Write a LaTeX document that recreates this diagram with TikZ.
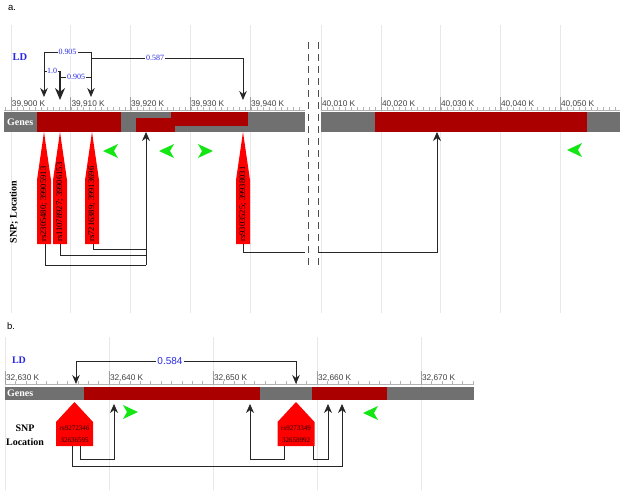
\documentclass[tikz,border=0pt]{standalone}
\usepackage{fontspec}
\setmainfont{Liberation Serif}
\newfontfamily\sansf{Liberation Sans}
\usetikzlibrary{arrows.meta}
\definecolor{genegrey}{RGB}{112,112,112}
\definecolor{genered}{RGB}{170,0,0}
\definecolor{snpred}{RGB}{255,0,0}
\definecolor{chev}{RGB}{20,230,20}
\definecolor{ldblue}{RGB}{40,40,230}
\definecolor{gridc}{RGB}{232,232,232}
\newcommand\SpikeA[3]{%
  \fill[snpred] (#2,132) -- ({#2+7},180) -- ({#2+7},244) -- ({#2-7},244) -- ({#2-7},180) -- cycle;
  \node[snplab,rotate=90,anchor=west] (#1) at (#2,242) {#3};}
\newcommand\HouseB[4]{%
  \fill[snpred] (#2,402) -- ({#2+18.5},422) -- ({#2+18.5},446) -- ({#2-18.5},446) -- ({#2-18.5},422) -- cycle;
  \node[snpbl] (#1t) at (#2,428) {#3};
  \node[snpbl] (#1p) at (#2,440) {#4};}
\begin{document}
\begin{tikzpicture}[x=1pt,y=-1pt,
  gridline/.style={draw=gridc,line width=0.7pt},
  majtick/.style={draw=gray!75,line width=0.6pt},
  mintick/.style={draw=gray!60,line width=0.4pt},
  ruler/.style={draw=gray!60,line width=0.8pt},
  ticklab/.style={font=\sansf\fontsize{8.3}{9}\selectfont,text=black!75,anchor=base west,inner sep=0pt},
  ldval/.style={font=\fontsize{8}{9}\selectfont,text=ldblue,fill=white,inner sep=1pt},
  ldvalb/.style={font=\sansf\fontsize{10}{11}\selectfont,text=ldblue,fill=white,inner sep=1pt},
  ldhead/.style={font=\bfseries\fontsize{10.5}{12}\selectfont,text=ldblue,inner sep=0pt},
  ldline/.style={draw=black!85,line width=0.7pt},
  ldtip/.style={-{Stealth[length=9pt,width=7.5pt]}},
  ldtips/.style={{Stealth[length=9pt,width=7.5pt]}-{Stealth[length=9pt,width=7.5pt]}},
  genelab/.style={font=\bfseries\fontsize{10}{12}\selectfont,text=white,anchor=west,inner sep=0pt},
  conn/.style={draw=black!85,line width=0.7pt},
  conntip/.style={-{Stealth[length=9pt,width=8pt]}},
  snplab/.style={font=\fontsize{8.6}{9}\selectfont,text=black,inner sep=0pt},
  snpbl/.style={font=\fontsize{7}{8}\selectfont,text=black!85!red,inner sep=0pt},
  sidelab/.style={font=\bfseries\fontsize{10}{12}\selectfont,inner sep=0pt},
  dashsep/.style={draw=black!70,line width=0.8pt,dash pattern=on 7pt off 5pt},
  panel/.style={font=\sansf\fontsize{9.5}{10}\selectfont,inner sep=0pt,anchor=west},
  chevl/.pic={\fill[chev] (-8,0) -- (7,-7) -- (3,0) -- (7,7) -- cycle;},
  chevr/.pic={\fill[chev] (8,0) -- (-7,-7) -- (-3,0) -- (-7,7) -- cycle;}
]
\useasboundingbox (0,0) rectangle (625,499);

% ---------------- panel a ----------------
\node[panel] (pa) at (8,8) {a.};
\foreach \gx in {11,70.5,130,190,250,321,381,440,500,560}
  \draw[gridline] (\gx,25) -- (\gx,313);

% rulers
\draw[ruler] (4,110) -- (305,110);
\draw[ruler] (321,110) -- (620,110);
\foreach \i in {0,...,49} \draw[mintick] ({5+6*\i},107) -- ++(0,3);
\foreach \i in {0,...,49} \draw[mintick] ({321+6*\i},107) -- ++(0,3);
\foreach \gx/\lab [count=\k] in {11/{39,900 K},70.5/{39,910 K},130/{39,920 K},190/{39,930 K},250/{39,940 K},321/{40,010 K},381/{40,020 K},440/{40,030 K},500/{40,040 K},560/{40,050 K}}{
  \draw[majtick] (\gx,97) -- (\gx,110);
  \node[ticklab] (ta\k) at (\gx+0.8,106) {\lab};
}

% gene bars
\fill[genegrey] (4,112) rectangle (305,132);
\fill[genered] (37,112) rectangle (121,132);
\fill[genered] (136,118) rectangle (175,132);
\fill[genered] (171,112) rectangle (248,126);
\fill[genegrey] (321,112) rectangle (620,132);
\fill[genered] (375,112) rectangle (587,132);
\node[genelab] (ga) at (7,122) {Genes};

% separators
\draw[dashsep] (308,42) -- (308,268);
\draw[dashsep] (318,42) -- (318,268);

% LD
\node[ldhead] (lda) at (20,57) {LD};
\coordinate (la1) at (44,97);
\coordinate (la2) at (60,100);
\coordinate (la3) at (91,97);
\coordinate (la4) at (243,100);
\draw[ldline,ldtips] (la1) -- (44,52) -- (91,52) -- (la3);
\draw[ldline,ldtip] (91,58) -- (243,58) -- (la4);
\draw[ldline] (44,71) -- (60,71);
\draw[ldline] (60,77) -- (91,77);
\draw[ldline,line width=1.3pt,-{Stealth[length=12pt,width=10pt]}] (60,71) -- (la2);
\node[ldval] (v1) at (67.5,52) {0.905};
\node[ldval] (v2) at (155,58) {0.587};
\node[ldval,inner sep=0.5pt] (v3) at (52,71) {1.0};
\node[ldval] (v4) at (76,77) {0.905};

% green strand marks
\pic at (111,151) {chevl};
\pic at (167,151) {chevl};
\pic at (205,151) {chevr};
\pic at (575,150) {chevl};

% SNPs
\node[sidelab,rotate=90] (sla) at (14,212) {SNP; Location};
\SpikeA{s1}{44}{rs2305480; 39905913}
\SpikeA{s2}{60}{rs11078927; 39906153}
\SpikeA{s3}{92}{rs7216389; 39913696}
\SpikeA{s4}{243}{rs9303525; 39938031}

\coordinate (g1) at (146,132);
\coordinate (g2) at (437,132);
\draw[conn] (45,244) -- (45,265) -- (146,265);
\draw[conn] (60,244) -- (60,255) -- (146,255);
\draw[conn] (93,244) -- (93,249) -- (146,249);
\draw[conn,conntip] (146,265) -- (g1);
\draw[conn] (243,244) -- (243,252) -- (305,252);
\draw[conn,conntip] (318,252) -- (437,252) -- (g2);

% ---------------- panel b ----------------
\node[panel] (pb) at (7,326) {b.};
\foreach \gx in {5,109,213,317,421}
  \draw[gridline] (\gx,337) -- (\gx,490);
\draw[ruler] (5,384) -- (474,384);
\foreach \i in {0,...,45} \draw[mintick] ({5+10.4*\i},381) -- ++(0,3);
\foreach \gx/\lab [count=\k] in {5/{32,630 K},109/{32,640 K},213/{32,650 K},317/{32,660 K},421/{32,670 K}}{
  \draw[majtick] (\gx,371) -- (\gx,384);
  \node[ticklab] (tb\k) at (\gx+0.8,380.5) {\lab};
}
\fill[genegrey] (5,387) rectangle (474,400);
\fill[genered] (84,387) rectangle (260,400);
\fill[genered] (312,387) rectangle (387,400);
\node[genelab] (gb) at (7,393.5) {Genes};

\node[ldhead,font=\bfseries\fontsize{10}{12}\selectfont] (ldb) at (19,360) {LD};
\coordinate (lb1) at (76,384);
\coordinate (lb2) at (296,384);
\draw[ldline,ldtips] (lb1) -- (76,361) -- (296,361) -- (lb2);
\node[ldvalb] (v5) at (170,361) {0.584};

\pic at (130,412) {chevr};
\pic at (371,413) {chevl};

\node[sidelab] (slb1) at (25,428) {SNP};
\node[sidelab] (slb2) at (25,442) {Location};
\HouseB{h1}{74.5}{rs9272346}{32636595}
\HouseB{h2}{296}{rs9273349}{32658992}

\coordinate (gb1) at (342,404);
\coordinate (gb2) at (114,404);
\coordinate (gb3) at (250,404);
\coordinate (gb4) at (328,404);
\draw[conn,conntip] (72,446) -- (72,466) -- (342,466) -- (gb1);
\draw[conn,conntip] (80,446) -- (80,459) -- (114,459) -- (gb2);
\draw[conn,conntip] (284,446) -- (284,459) -- (250,459) -- (gb3);
\draw[conn,conntip] (313,446) -- (313,459) -- (328,459) -- (gb4);
\end{tikzpicture}
\end{document}
